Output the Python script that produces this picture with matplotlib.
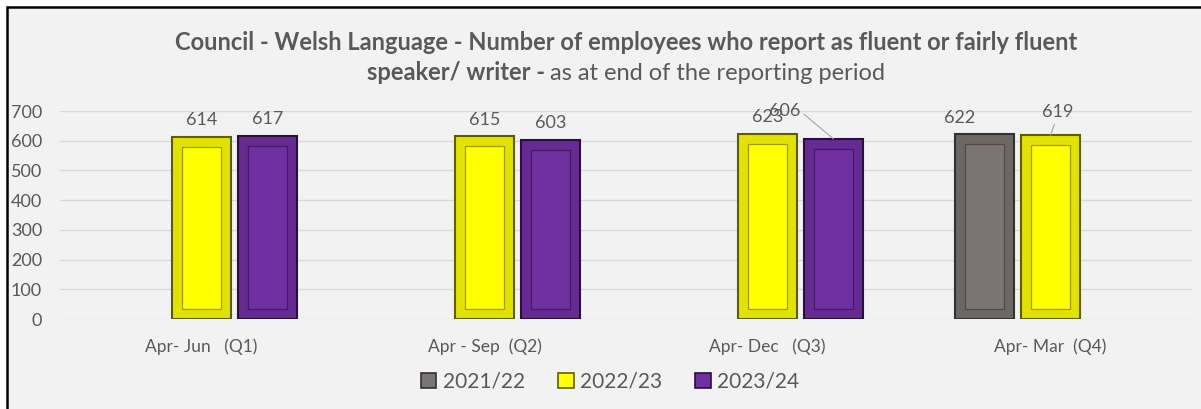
import numpy as np
import matplotlib
matplotlib.use('Agg')
import matplotlib.pyplot as plt
from matplotlib.patches import Rectangle, Patch

# data
categories = ['Apr- Jun   (Q1)', 'Apr - Sep  (Q2)', 'Apr- Dec   (Q3)', 'Apr- Mar  (Q4)']
series_names = ['2021/22', '2022/23', '2023/24']
v_2021_22 = [np.nan, np.nan, np.nan, 622]
v_2022_23 = [614, 615, 623, 619]
v_2023_24 = [617, 603, 606, np.nan]
yticks = [0, 100, 200, 300, 400, 500, 600, 700]

title_line1 = 'Council - Welsh Language - Number of employees who report as fluent or fairly fluent'
title_bold2 = 'speaker/ writer - '
title_norm2 = 'as at end of the reporting period'

# styles: (outer frame, outer edge, inner face, inner edge)
styles = [('#6B6765', '#343231', '#7A7574', '#4E4B4A'),
          ('#E2E200', '#5E5E00', '#FFFF00', '#9C9C00'),
          ('#662A93', '#2A0E40', '#7030A0', '#461A66')]
txt = '#595959'

plt.rcParams['font.family'] = ['Lato', 'DejaVu Sans']

W, H = 1201, 409
fig = plt.figure(figsize=(W / 100, H / 100), dpi=100)
fig.patch.set_facecolor('white')
fig.patches.append(Rectangle((7 / W, -0.1), 1.2, 1.1 - 7 / H, transform=fig.transFigure,
                             facecolor='#F2F2F2', edgecolor='black', linewidth=1.8, zorder=-5))

ax = fig.add_axes([60 / W, 1 - 319 / H, 1132 / W, 208 / H])
ax.set_zorder(2)
ax.set_facecolor('none')
ax.set_xlim(-0.5, 3.5)
ax.set_ylim(0, 700)
ax.set_yticks(yticks)
ax.grid(axis='y', color='#D9D9D9', linewidth=1.0)
ax.set_axisbelow(True)
for s in ax.spines.values():
    s.set_visible(False)
x = np.arange(len(categories))
ax.set_xticks(x)
ax.set_xticklabels(categories, fontsize=12.5, color=txt)
ax.tick_params(axis='x', length=0, pad=14)
ax.tick_params(axis='y', length=0, pad=13, labelsize=13, labelcolor=txt)

slot = 0.233
bw = 0.208
inset_x = 0.034
inset_y = 34
# px offsets of the labels that were moved by hand
moved = {(2, 2): (-49, 28, (1, 0.5)), (3, 0): (-25, 16, None), (3, 1): (7, 23, (0.45, 0))}

for i, vals in enumerate([v_2021_22, v_2022_23, v_2023_24]):
    outer, oedge, inner, iedge = styles[i]
    vals = np.array(vals, dtype=float)
    ok = ~np.isnan(vals)
    xs = x[ok] + (i - 1) * slot
    ax.bar(xs, vals[ok], width=bw, color=outer, edgecolor=oedge, linewidth=1.5, zorder=2)
    ax.bar(xs, vals[ok] - 2 * inset_y, bottom=inset_y, width=bw - 2 * inset_x,
           color=inner, edgecolor=iedge, linewidth=0.9, zorder=3)
    for c in np.where(ok)[0]:
        dx, dy, rel = moved.get((c, i), (0, 16.5, None))
        ap = None
        if rel is not None:
            ap = dict(arrowstyle='-', color='#A6A6A6', lw=0.8, shrinkA=1, shrinkB=0, relpos=rel)
        ax.annotate(f'{vals[c]:.0f}', xy=(c + (i - 1) * slot, vals[c]),
                    xytext=(dx * 0.72, dy * 0.72), textcoords='offset points',
                    ha='center', va='center', fontsize=13, color=txt,
                    arrowprops=ap, annotation_clip=False, zorder=5)

# title, first line bold, second line mixed
cx = 626 / W
fig.text(cx, 1 - 43 / H, title_line1, ha='center', va='center', fontsize=17,
         fontweight='bold', color=txt)
fig.canvas.draw()
r = fig.canvas.get_renderer()
t1 = fig.text(0, 1 - 73 / H, title_bold2, ha='left', va='center', fontsize=17,
              fontweight='bold', color=txt)
t2 = fig.text(0, 1 - 73 / H, title_norm2, ha='left', va='center', fontsize=17, color=txt)
w1 = t1.get_window_extent(r).width / W
w2 = t2.get_window_extent(r).width / W
t1.set_x(cx - (w1 + w2) / 2)
t2.set_x(cx - (w1 + w2) / 2 + w1)

handles = [Patch(facecolor=s[2], edgecolor=s[1], linewidth=1.2) for s in styles]
fig.legend(handles, series_names, loc='center', bbox_to_anchor=(610 / W, 1 - 382 / H),
           ncol=3, frameon=False, fontsize=15, handlelength=0.75, handleheight=0.75,
           handletextpad=0.3, columnspacing=1.6, labelcolor=txt)

fig.savefig('out.png', dpi=100, facecolor=fig.get_facecolor())
